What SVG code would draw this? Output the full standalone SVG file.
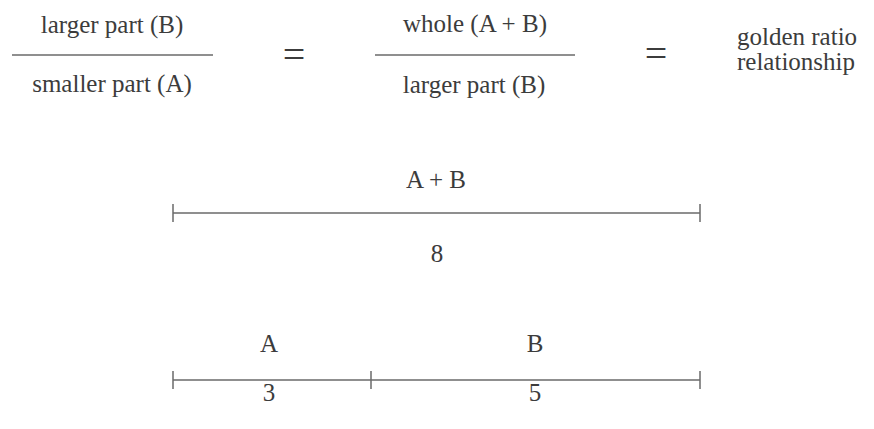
<svg xmlns="http://www.w3.org/2000/svg" width="874" height="429" viewBox="0 0 874 429">
<style>
text{font-family:'Liberation Serif','DejaVu Serif','Times New Roman',serif;font-size:25px;fill:#3c3c3c;text-anchor:middle}
.eq{font-size:40px}
.l{text-anchor:start}
line{stroke:#6a6a6a;stroke-width:1.5;fill:none}
</style>
<rect width="874" height="429" fill="#ffffff"/>
<g id="fraction1">
<text x="112" y="33">larger part (B)</text>
<line x1="12" y1="55" x2="213" y2="55"/>
<text x="112" y="92">smaller part (A)</text>
</g>
<g id="equals1"><text class="eq" x="294" y="68">=</text></g>
<g id="fraction2">
<text x="475" y="32">whole (A + B)</text>
<line x1="375" y1="55" x2="575" y2="55"/>
<text x="474" y="93">larger part (B)</text>
</g>
<g id="equals2"><text class="eq" x="656" y="67">=</text></g>
<g id="golden">
<text class="l" x="737" y="45">golden ratio</text>
<text class="l" x="737" y="70">relationship</text>
</g>
<g id="whole-segment">
<text x="436" y="188">A + B</text>
<text x="437" y="262">8</text>
</g>
<g id="segment-A">
<text x="269" y="352">A</text>
<text x="269" y="401">3</text>
</g>
<g id="segment-B">
<text x="535" y="352">B</text>
<text x="535" y="401">5</text>
</g>
<g id="connectors">
<line x1="173" y1="213" x2="700" y2="213"/>
<line x1="173" y1="204" x2="173" y2="222"/>
<line x1="700" y1="204" x2="700" y2="222"/>
<line x1="173" y1="380" x2="700" y2="380"/>
<line x1="173" y1="371" x2="173" y2="389"/>
<line x1="371" y1="371" x2="371" y2="389"/>
<line x1="700" y1="371" x2="700" y2="389"/>
</g>
</svg>
